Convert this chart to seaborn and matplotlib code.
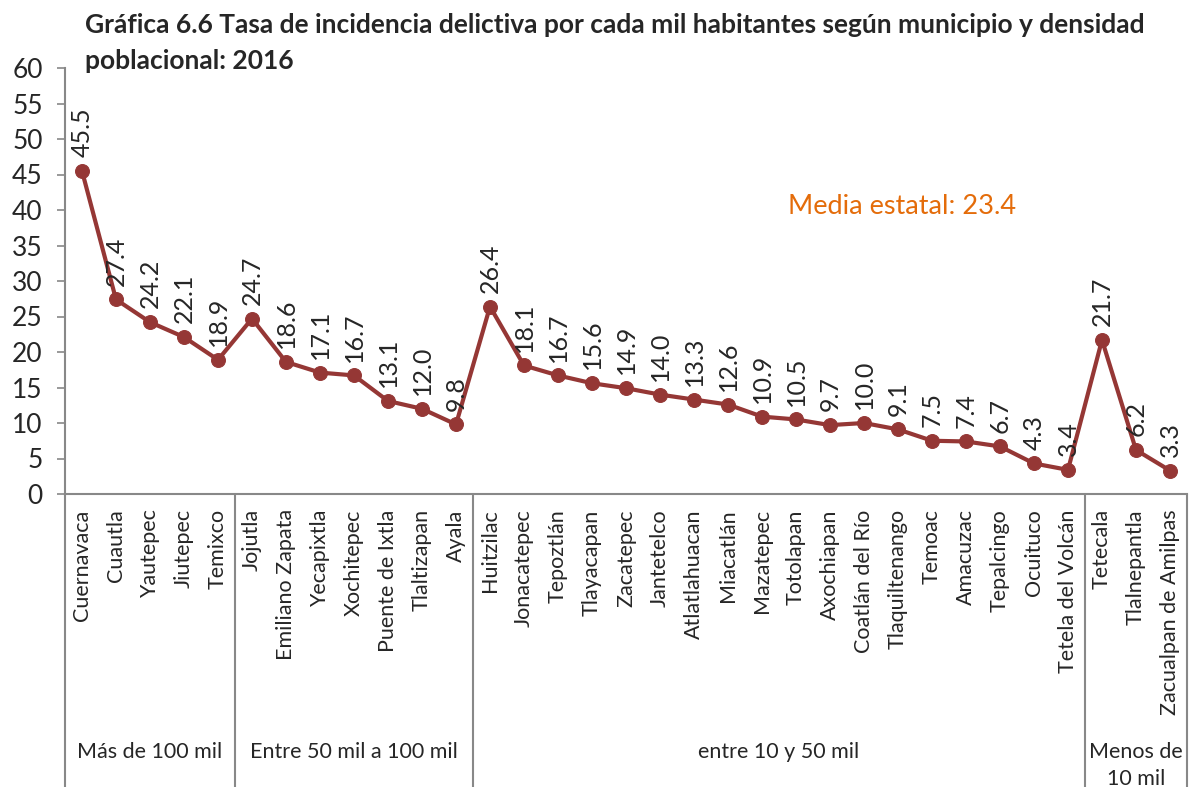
import matplotlib
matplotlib.use("Agg")
import matplotlib.pyplot as plt
import matplotlib.transforms as mtransforms
import seaborn as sns
import pandas as pd

municipios = ["Cuernavaca", "Cuautla", "Yautepec", "Jiutepec", "Temixco",
              "Jojutla", "Emiliano Zapata", "Yecapixtla", "Xochitepec", "Puente de Ixtla",
              "Tlaltizapan", "Ayala",
              "Huitzilac", "Jonacatepec", "Tepoztlán", "Tlayacapan", "Zacatepec", "Jantetelco",
              "Atlatlahuacan", "Miacatlán", "Mazatepec", "Totolapan", "Axochiapan",
              "Coatlán del Río", "Tlaquiltenango", "Temoac", "Amacuzac", "Tepalcingo",
              "Ocuituco", "Tetela del Volcán",
              "Tetecala", "Tlalnepantla", "Zacualpan de Amilpas"]
tasas = [45.5, 27.4, 24.2, 22.1, 18.9,
         24.7, 18.6, 17.1, 16.7, 13.1, 12.0, 9.8,
         26.4, 18.1, 16.7, 15.6, 14.9, 14.0, 13.3, 12.6, 10.9, 10.5, 9.7, 10.0,
         9.1, 7.5, 7.4, 6.7, 4.3, 3.4,
         21.7, 6.2, 3.3]
grupos = ["Más de 100 mil", "Entre 50 mil a 100 mil", "entre 10 y 50 mil", "Menos de\n10 mil"]
grupo_tamano = [5, 7, 18, 3]
media_estatal = 23.4

sns.set_style("white")
plt.rcParams['font.family'] = ['Lato', 'DejaVu Sans']

df = pd.DataFrame({"pos": range(len(municipios)), "municipio": municipios, "tasa": tasas})

fig = plt.figure(figsize=(11.89, 7.87), dpi=100)
ax = fig.add_axes([65 / 1189, 1 - 494 / 787, (1187 - 65) / 1189, (494 - 68) / 787])

color = "#953735"
sns.lineplot(data=df, x="pos", y="tasa", ax=ax, color=color, linewidth=3,
             marker="o", markersize=10, markeredgecolor=color)

# data labels, rotated like the original
for i, v in enumerate(tasas):
    ax.annotate(f"{v:.1f}", (i, v), xytext=(0, 10), textcoords="offset points",
                rotation=90, ha="center", va="bottom", fontsize=18)

ax.set_xlim(-0.5, len(municipios) - 0.5)
ax.set_ylim(0, 60)
ax.set_yticks(range(0, 61, 5))
ax.set_xticks(range(len(municipios)))
ax.set_xticklabels(municipios, rotation=90, va="top", ha="center")
ax.tick_params(axis="x", length=0, pad=11, labelsize=15.5)
ax.tick_params(axis="y", length=6, width=1.2, color="#888888", labelsize=19, pad=10, left=True)
ax.set_xlabel("")
ax.set_ylabel("")

for s in ["top", "right"]:
    ax.spines[s].set_visible(False)
for s in ["left", "bottom"]:
    ax.spines[s].set_color("#888888")
    ax.spines[s].set_linewidth(1.5)

# group separators and group labels
ybot = -(787 - 494) / 426
trans = mtransforms.blended_transform_factory(ax.transData, ax.transAxes)
edges = [-0.5]
for n in grupo_tamano:
    edges.append(edges[-1] + n)
for e in edges:
    ax.plot([e, e], [0, ybot], transform=trans, color="#888888", lw=1.5, clip_on=False)
for k, g in enumerate(grupos):
    xc = (edges[k] + edges[k + 1]) / 2
    ax.text(xc, -(742 - 494) / 426, g, transform=trans, ha="center", va="top",
            fontsize=15.5, linespacing=1.45)

ax.text(0.746, 0.674, f"Media estatal: {media_estatal}", transform=ax.transAxes,
        ha="center", va="center", fontsize=19.5, color="#E46C0A")

fig.text(85 / 1189, 1 - 13 / 787,
         "Gráfica 6.6 Tasa de incidencia delictiva por cada mil habitantes según municipio y densidad\npoblacional: 2016",
         ha="left", va="top", fontsize=19, fontweight="bold", linespacing=1.6)

fig.savefig("out.png", dpi=100)
